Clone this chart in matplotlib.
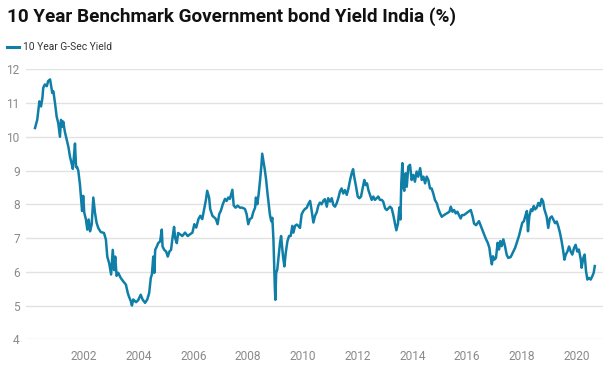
import matplotlib
matplotlib.use("Agg")
import matplotlib.pyplot as plt

# decimal year, yield (%)
years = [
    2000.21, 2000.29, 2000.37, 2000.43, 2000.48, 2000.51, 2000.57, 2000.64, 2000.69, 2000.76,
    2000.79, 2000.84, 2000.88, 2000.94, 2001.00, 2001.06, 2001.12, 2001.16, 2001.21, 2001.24,
    2001.30, 2001.37, 2001.43, 2001.49, 2001.55, 2001.59, 2001.63, 2001.67, 2001.71, 2001.75,
    2001.79, 2001.85, 2001.89, 2001.93, 2001.97, 2002.01, 2002.07, 2002.12, 2002.17, 2002.22,
    2002.28, 2002.34, 2002.40, 2002.46, 2002.52, 2002.61,
    2002.73, 2002.80, 2002.85, 2002.92, 2002.99, 2003.05, 2003.10, 2003.14, 2003.19, 2003.25,
    2003.34, 2003.43, 2003.53, 2003.60, 2003.64, 2003.71, 2003.75, 2003.80, 2003.90, 2003.98,
    2004.07, 2004.14, 2004.23, 2004.31, 2004.38, 2004.44, 2004.48, 2004.53, 2004.57, 2004.60,
    2004.66, 2004.71, 2004.78, 2004.84, 2004.87, 2004.93, 2005.00, 2005.06, 2005.12, 2005.18,
    2005.24, 2005.29, 2005.33, 2005.39, 2005.44,
    2005.51, 2005.59, 2005.69, 2005.79, 2005.87, 2005.96, 2006.03, 2006.10, 2006.18, 2006.25,
    2006.32, 2006.39, 2006.46, 2006.50, 2006.57, 2006.61, 2006.69, 2006.76, 2006.82, 2006.88,
    2006.94, 2007.00, 2007.07, 2007.15, 2007.21, 2007.27, 2007.33, 2007.42, 2007.47, 2007.54,
    2007.61, 2007.70, 2007.78, 2007.88, 2007.94, 2008.00, 2008.06,
    2008.13, 2008.18, 2008.25, 2008.28, 2008.33, 2008.38, 2008.43, 2008.48, 2008.51, 2008.55,
    2008.60, 2008.65, 2008.70, 2008.75, 2008.79, 2008.84, 2008.88, 2008.92, 2008.94, 2008.97,
    2008.99, 2009.02, 2009.06, 2009.11, 2009.16, 2009.20, 2009.23, 2009.27, 2009.32, 2009.37,
    2009.43, 2009.49, 2009.55, 2009.61, 2009.65, 2009.71, 2009.77, 2009.83, 2009.89, 2009.95,
    2010.01, 2010.07, 2010.14, 2010.19, 2010.26, 2010.30, 2010.38, 2010.44, 2010.50, 2010.56,
    2010.62, 2010.68, 2010.74, 2010.80,
    2010.87, 2010.92, 2010.99, 2011.05, 2011.11, 2011.17, 2011.23, 2011.29, 2011.35, 2011.41,
    2011.47, 2011.53, 2011.60, 2011.66, 2011.72, 2011.78, 2011.83, 2011.87, 2011.94, 2012.00,
    2012.06, 2012.12, 2012.18, 2012.24, 2012.29, 2012.34, 2012.39, 2012.45, 2012.51, 2012.57,
    2012.63, 2012.69, 2012.75, 2012.81, 2012.88, 2012.93, 2013.00, 2013.06, 2013.12, 2013.18,
    2013.24, 2013.30, 2013.36, 2013.41, 2013.47, 2013.52, 2013.56, 2013.59, 2013.63, 2013.67,
    2013.70, 2013.75, 2013.79, 2013.85, 2013.91, 2013.97, 2014.03, 2014.09, 2014.15, 2014.21,
    2014.28, 2014.34, 2014.40, 2014.46, 2014.52, 2014.58, 2014.64, 2014.70, 2014.76, 2014.82,
    2014.89, 2014.94, 2015.01, 2015.07, 2015.15, 2015.25, 2015.35, 2015.40, 2015.46, 2015.52,
    2015.58, 2015.64, 2015.70, 2015.76, 2015.81, 2015.88, 2015.96, 2016.04, 2016.13, 2016.20,
    2016.25, 2016.32, 2016.43, 2016.50, 2016.57, 2016.62, 2016.69, 2016.75, 2016.81, 2016.84,
    2016.90, 2016.94, 2016.99, 2017.05, 2017.11, 2017.16, 2017.21, 2017.26, 2017.32, 2017.38,
    2017.44, 2017.50, 2017.59, 2017.66, 2017.75, 2017.83, 2017.89, 2017.95, 2018.01, 2018.07,
    2018.14, 2018.18, 2018.22, 2018.27, 2018.33, 2018.38, 2018.43, 2018.48, 2018.54, 2018.60,
    2018.66, 2018.72, 2018.77, 2018.82, 2018.86, 2018.90, 2018.96, 2019.02, 2019.09, 2019.15,
    2019.21, 2019.27, 2019.33, 2019.39, 2019.45, 2019.51, 2019.55, 2019.60, 2019.66, 2019.72,
    2019.78, 2019.84, 2019.90, 2019.96, 2020.02, 2020.08, 2020.15, 2020.18, 2020.24, 2020.29,
    2020.34, 2020.39, 2020.45, 2020.51, 2020.57, 2020.62, 2020.66,
]
yields = [
    10.26, 10.50, 11.05, 10.90, 11.15, 11.45, 11.55, 11.50, 11.65, 11.70,
    11.55, 11.30, 11.35, 11.00, 10.60, 10.40, 10.00, 10.50, 10.30, 10.45,
    10.15, 9.90, 9.70, 9.40, 9.20, 9.05, 9.40, 9.80, 9.10, 9.10,
    9.00, 8.60, 8.20, 7.80, 8.25, 7.75, 7.55, 7.25, 7.55, 7.20,
    7.40, 8.20, 7.75, 7.45, 7.30, 7.18,
    7.15, 6.95, 6.45, 6.25, 5.92, 6.65, 6.05, 6.45, 5.88, 5.97,
    5.82, 5.72, 5.62, 5.37, 5.27, 5.13, 5.00, 5.18, 5.10, 5.16,
    5.32, 5.18, 5.08, 5.18, 5.37, 5.82, 5.92, 6.45, 5.97, 6.65,
    6.75, 6.85, 6.90, 7.25, 6.75, 6.65, 6.60, 6.45, 6.60, 6.65,
    7.05, 7.33, 7.00, 6.85, 7.15,
    7.11, 7.06, 7.16, 7.06, 7.11, 7.16, 7.41, 7.31, 7.56, 7.66,
    7.56, 7.86, 8.16, 8.40, 8.20, 7.86, 7.66, 7.61, 7.56, 7.41,
    7.71, 7.81, 8.00, 8.16, 8.10, 8.20, 8.16, 8.43, 7.96, 7.90,
    7.96, 7.90, 7.90, 7.86, 7.71, 7.41, 7.56,
    7.60, 7.76, 7.90, 8.20, 8.00, 8.30, 8.70, 9.15, 9.50, 9.30,
    9.05, 8.75, 8.35, 8.00, 7.70, 7.50, 7.60, 6.96, 6.36, 5.57,
    5.17, 5.97, 6.06, 6.46, 6.86, 7.06, 6.81, 6.46, 6.16, 6.56,
    6.90, 7.06, 7.06, 7.36, 7.16, 7.36, 7.40, 7.36, 7.30, 7.70,
    7.80, 7.86, 7.90, 8.00, 8.10, 7.90, 7.46, 7.66, 7.76, 7.96,
    8.05, 8.00, 8.10, 8.15,
    7.93, 8.18, 8.08, 8.18, 7.98, 7.93, 8.03, 8.18, 8.38, 8.47,
    8.32, 8.42, 8.28, 8.47, 8.72, 8.92, 9.04, 8.82, 8.52, 8.23,
    8.18, 8.23, 8.47, 8.72, 8.57, 8.62, 8.42, 8.28, 8.13, 8.23,
    8.13, 8.18, 8.23, 8.13, 8.13, 8.08, 7.88, 7.83, 7.88, 7.93,
    7.88, 7.68, 7.43, 7.23, 7.43, 7.90, 7.55, 8.60, 9.22, 8.50,
    8.40, 8.92, 8.52, 9.12, 9.17, 8.72, 8.87, 8.67, 8.97, 8.82,
    9.07, 8.72, 8.82, 8.62, 8.82, 8.72, 8.47, 8.47, 8.32, 8.13,
    8.03, 7.88, 7.73, 7.63, 7.68, 7.73, 7.78, 7.93, 7.78, 7.83,
    7.73, 7.78, 7.68, 7.58, 7.68, 7.68, 7.73, 7.78, 7.83, 7.63,
    7.43, 7.38, 7.50, 7.35, 7.20, 7.10, 6.96, 6.86, 6.71, 6.51,
    6.22, 6.46, 6.36, 6.41, 6.86, 6.66, 6.91, 6.76, 6.96, 6.76,
    6.51, 6.41, 6.44, 6.56, 6.71, 6.91, 7.06, 7.25, 7.45, 7.50,
    7.70, 7.80, 7.20, 7.65, 7.85, 7.80, 7.95, 7.85, 7.90, 8.04,
    7.95, 8.16, 8.09, 7.85, 7.75, 7.64, 7.30, 7.59, 7.64, 7.54,
    7.44, 7.49, 7.34, 7.15, 6.90, 6.60, 6.36, 6.51, 6.60, 6.75,
    6.60, 6.51, 6.70, 6.80, 6.60, 6.66, 6.36, 6.12, 6.41, 6.51,
    6.02, 5.77, 5.82, 5.77, 5.87, 5.97, 6.17,
]

x_ticks = [2002, 2004, 2006, 2008, 2010, 2012, 2014, 2016, 2018, 2020]
y_ticks = [4, 5, 6, 7, 8, 9, 10, 11, 12]

plt.rcParams['font.family'] = ['Roboto', 'DejaVu Sans']

fig = plt.figure(figsize=(6.1, 3.82), dpi=100)
ax = fig.add_axes([0.0426, 0.1118, 0.9459, 0.7068])

line_color = '#0f7fa8'
ax.plot(years, yields, color=line_color, lw=1.8, solid_joinstyle='round')

ax.set_xlim(1999.88, 2020.96)
ax.set_ylim(4, 12)
ax.set_xticks(x_ticks)
ax.set_xticklabels([str(t) for t in x_ticks])
ax.set_yticks(y_ticks)
ax.set_yticklabels([str(t) for t in y_ticks])

ax.grid(axis='y', color='#e2e2e2', lw=1)
ax.set_axisbelow(True)
for s in ax.spines.values():
    s.set_visible(False)
ax.tick_params(axis='both', length=0, labelsize=8.6, colors='#8a8a8a')
ax.tick_params(axis='y', pad=4.5)
ax.tick_params(axis='x', pad=8)

fig.text(0.011, 0.982, "10 Year Benchmark Government bond Yield India (%)",
         fontsize=13.6, fontweight='bold', color='#111111', va='top', ha='left')

# legend
fig.lines.append(plt.Line2D([0.012, 0.031], [0.877, 0.877], transform=fig.transFigure,
                            color=line_color, lw=2.2))
fig.text(0.038, 0.877, "10 Year G-Sec Yield", fontsize=7.4, color='#333333',
         va='center', ha='left')

fig.savefig("out.png", dpi=100)
